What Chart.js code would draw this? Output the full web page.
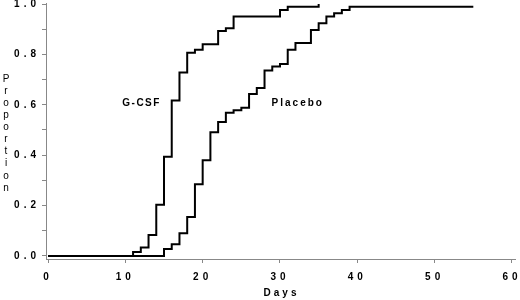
<!DOCTYPE html>
<html>
<head>
<meta charset="utf-8">
<script src="https://cdn.jsdelivr.net/npm/chart.js@4.4.1/dist/chart.umd.min.js"></script>
<style>
  html, body { margin: 0; padding: 0; background: #fff; }
  #wrap { width: 520px; height: 300px; position: relative; }
</style>
</head>
<body>
<div id="wrap"><canvas id="curves"></canvas></div>
<script>
// cumulative proportion (step at each day)
const gcsfDays = [0, 11, 12, 13, 14, 15, 16, 17, 18, 19, 20, 22, 23, 24, 30, 31, 35];
const gcsfProp = [0, 0.016, 0.034, 0.083, 0.203, 0.394, 0.617, 0.728, 0.807, 0.818, 0.84, 0.893, 0.904, 0.95, 0.976, 0.989, 1.0];

const placeboDays = [0, 15, 16, 17, 18, 19, 20, 21, 22, 23, 24, 25, 26, 27, 28, 29, 30, 31, 32, 34, 35, 36, 37, 38, 39, 55];
const placeboProp = [0, 0.028, 0.047, 0.09, 0.155, 0.285, 0.38, 0.491, 0.532, 0.568, 0.578, 0.588, 0.643, 0.667, 0.736, 0.752, 0.762, 0.818, 0.845, 0.897, 0.924, 0.95, 0.963, 0.976, 0.989, 0.989];

const xTicks = [0, 10, 20, 30, 40, 50, 60];
const yTicks = [0, 0.1, 0.2, 0.3, 0.4, 0.5, 0.6, 0.7, 0.8, 0.9, 1.0];
const seriesNames = ['G-CSF', 'Placebo'];
const axisTitles = ['Days', 'Proportion'];

const FONT = "'Liberation Sans', Arial, Helvetica, sans-serif";

const toPoints = (days, vals) => days.map((d, i) => ({ x: d, y: vals[i] }));

// spaced-out lettering like the original print (tick labels)
const spacing = {
    id: 'spacing',
    beforeDraw(chart) { chart.ctx.letterSpacing = '4px'; },
    beforeDatasetsDraw(chart) { chart.ctx.letterSpacing = '4px'; }
};

// series names, x title and the stacked y title
const labels = {
    id: 'labels',
    afterDraw(chart) {
        const ctx = chart.ctx;
        const xs = chart.scales.x, ys = chart.scales.y;
        ctx.save();
        ctx.fillStyle = '#000';
        ctx.textAlign = 'center';
        ctx.textBaseline = 'middle';
        ctx.font = 'bold 10px ' + FONT;
        ctx.letterSpacing = '1.5px';
        ctx.fillText(seriesNames[0], xs.getPixelForValue(12.1), ys.getPixelForValue(0.607));
        ctx.letterSpacing = '2px';
        ctx.fillText(seriesNames[1], xs.getPixelForValue(32.3), ys.getPixelForValue(0.607));
        ctx.letterSpacing = '3px';
        ctx.fillText(axisTitles[0], xs.getPixelForValue(30.2), 293);

        ctx.letterSpacing = '0px';
        ctx.font = '10px ' + FONT;
        const word = axisTitles[1];
        for (let i = 0; i < word.length; i++) {
            ctx.fillText(word[i], 6, 79 + i * 12.1);
        }
        ctx.restore();
    }
};

const ctx = document.getElementById('curves');

new Chart(ctx, {
    type: 'line',
    data: {
        datasets: [{
            label: seriesNames[0],
            data: toPoints(gcsfDays, gcsfProp),
            stepped: 'before',
            borderColor: '#000',
            borderWidth: 2,
            pointRadius: 0,
            fill: false
        }, {
            label: seriesNames[1],
            data: toPoints(placeboDays, placeboProp),
            stepped: 'before',
            borderColor: '#000',
            borderWidth: 2,
            pointRadius: 0,
            fill: false
        }]
    },
    options: {
        responsive: true,
        maintainAspectRatio: false,
        animation: false,
        layout: { padding: { top: 3, right: 5, bottom: 0, left: 0 } },
        plugins: {
            legend: { display: false },
            tooltip: { enabled: false }
        },
        scales: {
            x: {
                type: 'linear',
                min: -0.26,
                max: 60.39,
                afterBuildTicks: (s) => { s.ticks = xTicks.map(v => ({ value: v })); },
                afterFit: (s) => { s.height = 41; s.paddingLeft = 0; s.paddingRight = 0; },
                ticks: {
                    color: '#000',
                    padding: 8,
                    maxRotation: 0,
                    font: { family: FONT, size: 10, weight: 'bold' },
                    callback: (v) => String(v)
                },
                grid: { drawOnChartArea: false, tickLength: 4, color: '#888' },
                border: { color: '#888', width: 1 }
            },
            y: {
                type: 'linear',
                min: -0.012,
                max: 1.004,
                afterBuildTicks: (s) => { s.ticks = yTicks.map(v => ({ value: v })); },
                afterFit: (s) => { s.width = 46; s.paddingTop = 0; s.paddingBottom = 0; },
                ticks: {
                    color: '#000',
                    padding: 2,
                    font: { family: FONT, size: 10, weight: 'bold' },
                    callback: (v) => (Math.round(v * 10) % 2 === 0 ? v.toFixed(1) : '')
                },
                grid: { drawOnChartArea: false, tickLength: 4, color: '#888' },
                border: { color: '#888', width: 1 }
            }
        }
    },
    plugins: [spacing, labels]
});
</script>
</body>
</html>
